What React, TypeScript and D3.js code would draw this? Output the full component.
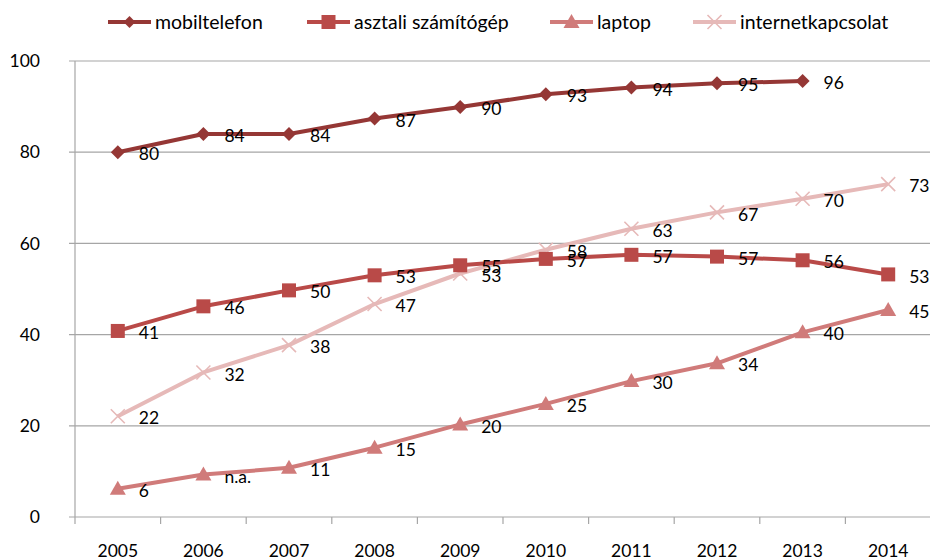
import React, { useEffect, useRef } from "react";
import * as d3 from "d3";

const years = ["2005", "2006", "2007", "2008", "2009", "2010", "2011", "2012", "2013", "2014"];
const yTicks = [0, 20, 40, 60, 80, 100];

const mobil = [80, 84, 84, 87.4, 89.9, 92.7, 94.2, 95.1, 95.6, null];
const mobilLabels = ["80", "84", "84", "87", "90", "93", "94", "95", "96", ""];
const asztali = [40.8, 46.2, 49.7, 53.0, 55.2, 56.6, 57.5, 57.1, 56.3, 53.2];
const asztaliLabels = ["41", "46", "50", "53", "55", "57", "57", "57", "56", "53"];
const laptop = [6.2, 9.3, 10.8, 15.2, 20.3, 24.8, 29.8, 33.7, 40.5, 45.4];
const laptopLabels = ["6", "n.a.", "11", "15", "20", "25", "30", "34", "40", "45"];
const internet = [22.1, 31.7, 37.7, 46.7, 53.4, 58.6, 63.2, 66.8, 69.8, 73.0];
const internetLabels = ["22", "32", "38", "47", "53", "58", "63", "67", "70", "73"];

const seriesNames = ["mobiltelefon", "asztali számítógép", "laptop", "internetkapcsolat"];
const colors = ["#953735", "#b94a48", "#d07b7a", "#e6b9b8"];
const shapes = ["diamond", "square", "triangle", "x"];

export default function App() {
  const ref = useRef<SVGSVGElement>(null);
  useEffect(() => {
    const svg = d3.select(ref.current);
    svg.selectAll("*").remove();
    const W = 930;
    const left = 75, right = 931, top = 61, bottom = 517;
    const font = "Lato, 'Open Sans', sans-serif";
    const x = d3.scaleBand().domain(years).range([left, right]);
    const y = d3.scaleLinear().domain([0, 100]).range([bottom, top]);
    const cx = (i: number) => (x(years[i]) as number) + x.bandwidth() / 2;

    // grid
    svg.append("g").selectAll("line").data(yTicks).join("line")
      .attr("x1", left - 6).attr("x2", W).attr("y1", d => y(d)).attr("y2", d => y(d))
      .attr("stroke", "#a6a6a6").attr("stroke-width", 1.2);
    svg.append("line").attr("x1", left).attr("x2", left).attr("y1", top).attr("y2", bottom + 7)
      .attr("stroke", "#a6a6a6").attr("stroke-width", 1.2);
    svg.append("g").selectAll("line").data(years.slice(1)).join("line")
      .attr("x1", d => x(d) as number).attr("x2", d => x(d) as number)
      .attr("y1", bottom).attr("y2", bottom + 7)
      .attr("stroke", "#a6a6a6").attr("stroke-width", 1.2);

    svg.append("g").selectAll("text").data(yTicks).join("text")
      .attr("x", 40).attr("y", d => y(d)).attr("dy", "0.35em").attr("text-anchor", "end")
      .attr("font-family", font).attr("font-size", 17.5).attr("fill", "#000").text(d => d);
    svg.append("g").selectAll("text").data(years).join("text")
      .attr("x", (d, i) => cx(i)).attr("y", 557).attr("text-anchor", "middle")
      .attr("font-family", font).attr("font-size", 17.5).attr("fill", "#000").text(d => d);

    const marker = (g: any, shape: string, color: string, px: number, py: number, s = 1) => {
      if (shape === "diamond") {
        g.append("path").attr("d", `M${px},${py - 7 * s}L${px + 7 * s},${py}L${px},${py + 7 * s}L${px - 7 * s},${py}Z`).attr("fill", color);
      } else if (shape === "square") {
        g.append("rect").attr("x", px - 7 * s).attr("y", py - 7 * s).attr("width", 14 * s).attr("height", 14 * s).attr("fill", color);
      } else if (shape === "triangle") {
        g.append("path").attr("d", `M${px},${py - 8 * s}L${px + 8 * s},${py + 6 * s}L${px - 8 * s},${py + 6 * s}Z`).attr("fill", color);
      } else {
        g.append("path").attr("d", `M${px - 7 * s},${py - 7 * s}L${px + 7 * s},${py + 7 * s}M${px + 7 * s},${py - 7 * s}L${px - 7 * s},${py + 7 * s}`)
          .attr("stroke", color).attr("stroke-width", 1.6).attr("fill", "none");
      }
    };

    const data = [mobil, asztali, laptop, internet];
    const labels = [mobilLabels, asztaliLabels, laptopLabels, internetLabels];
    const line = d3.line<number | null>().defined(d => d != null).x((d, i) => cx(i)).y(d => y(d as number));

    const order = [3, 2, 1, 0];
    order.forEach(si => {
      const g = svg.append("g");
      g.append("path").datum(data[si]).attr("d", line as any).attr("fill", "none")
        .attr("stroke", colors[si]).attr("stroke-width", 4).attr("stroke-linejoin", "round");
      data[si].forEach((v, i) => { if (v != null) marker(g, shapes[si], colors[si], cx(i), y(v)); });
    });
    order.forEach(si => {
      svg.append("g").selectAll("text").data(data[si].map((v, i) => ({ v, i }))).join("text")
        .filter((d: any) => d.v != null)
        .attr("x", (d: any) => cx(d.i) + 21).attr("y", (d: any) => y(d.v) + 2).attr("dy", "0.35em")
        .attr("font-family", font).attr("font-size", 17.5).attr("fill", "#000")
        .text((d: any) => labels[si][d.i]);
    });

    // legend
    const legendX = [108, 307, 550, 693];
    seriesNames.forEach((n, si) => {
      const g = svg.append("g");
      const lx = legendX[si], ly = 22;
      g.append("line").attr("x1", lx).attr("x2", lx + 43).attr("y1", ly).attr("y2", ly)
        .attr("stroke", colors[si]).attr("stroke-width", 4);
      marker(g, shapes[si], colors[si], lx + 21.5, ly, si === 0 ? 0.85 : 1);
      g.append("text").attr("x", lx + 47).attr("y", ly).attr("dy", "0.35em")
        .attr("font-family", font).attr("font-size", 19.5).attr("fill", "#000").text(n);
    });
  }, []);
  return <svg ref={ref} width={930} height={560} style={{ position: "absolute", left: 0, top: 0, background: "#fff" }} />;
}
